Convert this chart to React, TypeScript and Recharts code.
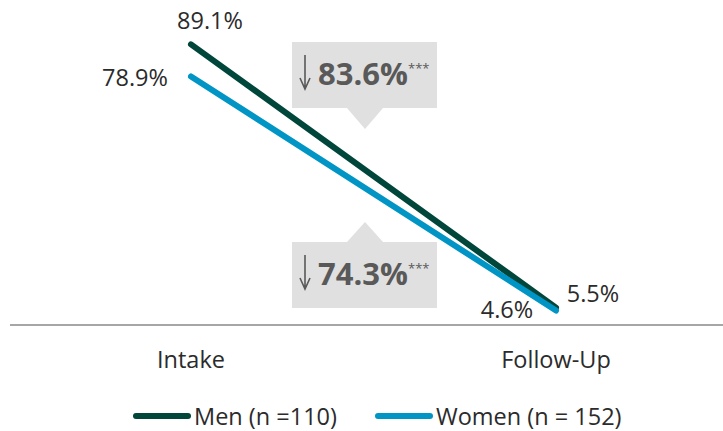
import { LineChart, Line, XAxis, YAxis, Legend, LabelList, Customized } from 'recharts';

const categories = ['Intake', 'Follow-Up'];
const menValues = [89.1, 5.5];
const womenValues = [78.9, 4.6];
const seriesNames = ['Men (n =110)', 'Women (n = 152)'];
const reductions = ['83.6%', '74.3%'];

const MEN = '#00463a';
const WOMEN = '#0095c4';
const FONT = "'Open Sans', sans-serif";
const FS = 23.5;

const data = categories.map((c, i) => ({ name: c, men: menValues[i], women: womenValues[i] }));

// label offsets relative to each point (dx, dy to baseline)
const menOffsets = [[19, -15], [37, -6]];
const womenOffsets = [[-56, 10], [-49, 7]];

function makeLabel(values: number[], offsets: number[][]) {
  return (props: any) => {
    const { x, y, index } = props;
    const [dx, dy] = offsets[index];
    return (
      <text x={x + dx} y={y + dy} textAnchor="middle" fontSize={FS} fill="#2b2b2b" fontFamily={FONT}>
        {values[index].toFixed(1)}%
      </text>
    );
  };
}

function Callout({ top, pointUp, label }: { top: number; pointUp: boolean; label: string }) {
  const left = 292, right = 437, h = 66, cx = 365;
  const bottom = top + h;
  const tri = pointUp
    ? `M${cx - 18},${top} L${cx},${top - 20} L${cx + 18},${top} Z`
    : `M${cx - 18},${bottom} L${cx},${bottom + 21} L${cx + 18},${bottom} Z`;
  const base = top + 43;
  return (
    <g>
      <rect x={left} y={top} width={right - left} height={h} fill="#e0e0e0" />
      <path d={tri} fill="#e0e0e0" />
      <path d={`M305,${base - 30} L305,${base + 4} M300,${base - 7} L305,${base + 4} L310,${base - 7}`}
        stroke="#595959" strokeWidth={1.6} fill="none" />
      <text x={318} y={base} fontSize={31} fontWeight="bold" fill="#595959" fontFamily={FONT}>{label}</text>
      <text x={408} y={base - 12} fontSize={13} fill="#595959" fontFamily={FONT}>***</text>
    </g>
  );
}

function Callouts() {
  return (
    <g>
      <Callout top={42} pointUp={false} label={reductions[0]} />
      <Callout top={242} pointUp={true} label={reductions[1]} />
    </g>
  );
}

function LegendContent() {
  const colors = [MEN, WOMEN];
  return (
    <div style={{ display: 'flex', alignItems: 'center', height: 30, paddingLeft: 133, fontFamily: FONT, fontSize: FS, lineHeight: '30px', color: '#2b2b2b' }}>
      {seriesNames.map((n, i) => (
        <div key={n} style={{ display: 'flex', alignItems: 'center', marginRight: 38 }}>
          <svg width={58} height={10} style={{ marginRight: 3 }}>
            <line x1={3} y1={5} x2={55} y2={5} stroke={colors[i]} strokeWidth={6} strokeLinecap="round" />
          </svg>
          <span style={{ whiteSpace: 'nowrap' }}>{n}</span>
        </div>
      ))}
    </div>
  );
}

export default function App() {
  return (
    <div style={{ position: 'absolute', left: 0, top: 0, width: 723, height: 431, overflow: 'hidden', background: '#fff' }}>
      <LineChart width={734} height={431} data={data} margin={{ top: 10, right: 0, bottom: 66, left: 10 }}>
        <XAxis
          dataKey="name"
          axisLine={{ stroke: '#a6a6a6', strokeWidth: 2 }}
          tickLine={false}
          tickMargin={20}
          height={40}
          padding={{ left: 181, right: 178 }}
          tick={{ fontSize: FS, fill: '#2b2b2b', fontFamily: FONT }}
        />
        <YAxis hide domain={[0, 100]} />
        <Customized component={Callouts} />
        <Line type="linear" dataKey="men" name={seriesNames[0]} stroke={MEN} strokeWidth={6} strokeLinecap="round" dot={false} isAnimationActive={false}>
          <LabelList dataKey="men" content={makeLabel(menValues, menOffsets)} />
        </Line>
        <Line type="linear" dataKey="women" name={seriesNames[1]} stroke={WOMEN} strokeWidth={6} strokeLinecap="round" dot={false} isAnimationActive={false}>
          <LabelList dataKey="women" content={makeLabel(womenValues, womenOffsets)} />
        </Line>
        <Legend
          layout="horizontal"
          verticalAlign="middle"
          align="center"
          content={LegendContent}
          wrapperStyle={{ left: 0, top: 401, width: 723, height: 30 }}
        />
      </LineChart>
    </div>
  );
}
